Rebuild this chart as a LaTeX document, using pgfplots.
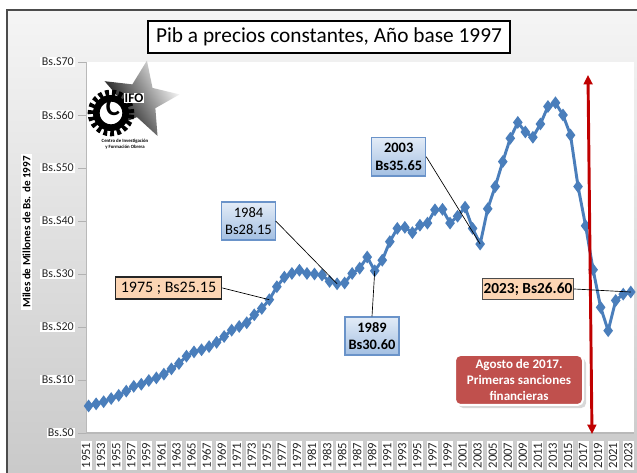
\documentclass[border=0pt]{standalone}
\usepackage{fontspec}
\setmainfont{Carlito}
\usepackage{pgfplots}
\pgfplotsset{compat=1.18}
\usetikzlibrary{shadows,shapes.geometric,arrows.meta}
\definecolor{pblue}{HTML}{4A7EBB}
\definecolor{peach}{HTML}{FCD5B4}
\definecolor{lblue1}{HTML}{E3ECF7}
\definecolor{lblue2}{HTML}{A3BFE2}
\definecolor{bblue}{HTML}{6A93C9}
\definecolor{redbox}{HTML}{C0504D}
\definecolor{darkred}{HTML}{C00000}
\pgfplotstableread{
year val
1951 5.1
1952 5.5
1953 5.9
1954 6.5
1955 7.1
1956 7.9
1957 8.8
1958 9.2
1959 9.9
1960 10.4
1961 11.1
1962 12.1
1963 13.1
1964 14.5
1965 15.3
1966 15.7
1967 16.3
1968 17.1
1969 18.2
1970 19.4
1971 20.1
1972 20.8
1973 22.3
1974 23.5
1975 25.15
1976 27.6
1977 29.4
1978 30.1
1979 30.7
1980 30.1
1981 30.0
1982 29.8
1983 28.6
1984 28.15
1985 28.3
1986 30.1
1987 31.1
1988 33.2
1989 30.6
1990 32.6
1991 36.1
1992 38.6
1993 38.8
1994 37.8
1995 39.2
1996 39.6
1997 42.1
1998 42.2
1999 39.6
2000 40.9
2001 42.6
2002 38.6
2003 35.65
2004 42.3
2005 46.5
2006 51.2
2007 55.6
2008 58.6
2009 56.8
2010 55.8
2011 58.3
2012 61.6
2013 62.3
2014 60.0
2015 56.2
2016 46.5
2017 39.1
2018 30.8
2019 23.7
2020 19.3
2021 25.0
2022 26.2
2023 26.6
}\pibdata
\begin{document}
\begin{tikzpicture}
% background (pixel coordinates)
\begin{scope}[shift={(-64.5pt,324.75pt)},x=0.75pt,y=-0.75pt]
  \useasboundingbox (0,0) rectangle (637,473);
  \fill[white] (0,0) rectangle (637,473);
  \shade[top color=gray!8, bottom color=gray!42] (7,10) rectangle (640,476);
  \draw[gray!60!black, line width=0.9pt] (7,476) -- (7,10) -- (640,10);
\end{scope}

\begin{axis}[
  at={(0pt,0pt)}, anchor=south west,
  scale only axis, width=411pt, height=278.25pt,
  xmin=1950.655, xmax=2023.43, ymin=0, ymax=70,
  axis background/.style={fill=white},
  axis x line*=bottom, axis y line*=left,
  axis line style={gray!55},
  /pgf/number format/assume math mode=true,
  /pgf/number format/1000 sep={},
  ytick={0,10,...,70},
  ytick pos=left,
  yticklabel={Bs.S\pgfmathprintnumber{\tick}},
  yticklabel style={font=\fontsize{9}{10}\selectfont, fill=white, inner sep=1pt, text=black!85, xshift=-2pt},
  y tick style={gray!60, line width=0.6pt},
  major tick length=6pt,
  tick align=outside,
  xtick={1951,1953,...,2023},
  x tick style={draw=none},
  xticklabel style={xshift=-1.9pt, rotate=90, anchor=east, font=\fontsize{9.5}{10}\selectfont, fill=white, inner sep=1pt, text=black!85},
  clip=false,
]
\addplot[pblue, line width=2.2pt, mark=diamond*, mark size=3pt, mark options={solid, fill=pblue}] table[x=year, y=val] {\pibdata};
\draw[gray!55, line width=1.6pt] (rel axis cs:0,0) -- (rel axis cs:1,0);
\coordinate (p1975) at (axis cs:1975,25.15);
\coordinate (p1984) at (axis cs:1984,28.15);
\coordinate (p1989) at (axis cs:1989,30.6);
\coordinate (p2003) at (axis cs:2003,35.65);
\coordinate (p2023) at (axis cs:2023,26.6);
\end{axis}

\begin{scope}[shift={(-64.5pt,324.75pt)},x=0.75pt,y=-0.75pt]
  % title
  \node[draw=black, line width=1pt, fill=white, font=\fontsize{16}{18}\selectfont,
        minimum width=271.5pt, minimum height=24pt, inner sep=0pt] at (329,37)
        {Pib a precios constantes, Año base 1997};
  % y label
  \node[rotate=90, fill=white, inner sep=1.5pt, font=\bfseries\fontsize{8.3}{9}\selectfont] at (26.5,232)
        {Miles de Millones de Bs. de 1997};
  % logo
  \node[star, star points=5, star point ratio=2.3, minimum size=60pt, inner sep=0pt,
        left color=black, right color=white, shading angle=120, rotate=-10] at (140,100) {};
  \draw[black, line width=5pt, dash pattern=on 2.8pt off 2.2pt] (111,113) circle (15pt);
  \draw[black, line width=5pt, fill=white] (111,113) circle (11pt);
  \node[font=\bfseries\fontsize{20}{20}\selectfont, text=black] at (113,107) {C};
  \node[font=\bfseries\fontsize{10}{10}\selectfont, text=black, fill=white, inner sep=0.5pt] at (134,98) {IFO};
  \node[font=\bfseries\fontsize{3.6}{4.5}\selectfont, align=center, inner sep=0pt] at (125,144)
        {Centro de Investigación\\y Formación Obrera};
  % annotation boxes
  \node[draw=black!85, fill=peach, line width=0.8pt, font=\fontsize{12}{14}\selectfont,
        minimum width=80pt, minimum height=16.5pt, inner sep=1pt] (b1975) at (168.5,288) {1975 ; Bs25.15};
  \draw[black, line width=0.5pt] (b1975.east) -- (p1975);
  \node[draw=bblue, top color=lblue1, bottom color=lblue2, line width=0.8pt, align=center,
        font=\fontsize{10.9}{13}\selectfont, minimum width=40pt, minimum height=28.5pt, inner sep=1pt] (b1984) at (248.5,221)
        {1984\\Bs28.15};
  \draw[black, line width=0.5pt] (b1984.east) -- (p1984);
  \node[draw=bblue, top color=lblue1, bottom color=lblue2, line width=0.8pt, align=center,
        font=\bfseries\fontsize{10.8}{13}\selectfont, minimum width=40.5pt, minimum height=29pt, inner sep=1pt] (b2003) at (398.7,156.7)
        {2003\\Bs35.65};
  \draw[black, line width=0.5pt] (b2003.east) -- (p2003);
  \node[draw=bblue, top color=lblue1, bottom color=lblue2, line width=0.8pt, align=center,
        font=\bfseries\fontsize{10.8}{13}\selectfont, minimum width=40.5pt, minimum height=28.5pt, inner sep=1pt] (b1989) at (372,336)
        {1989\\Bs30.60};
  \draw[black, line width=0.5pt] (b1989.north) -- (p1989);
  % sanctions arrow
  \draw[darkred, line width=2.2pt, {Triangle[length=7pt,width=6.5pt]}-{Triangle[length=7pt,width=6.5pt]}] (592,434) -- (588,75);
  \node[draw=black!70, fill=peach, line width=0.8pt, font=\bfseries\fontsize{11.5}{13}\selectfont,
        minimum width=68pt, minimum height=16pt, inner sep=1pt] (b2023) at (528,289) {2023; Bs26.60};
  \draw[black, line width=0.5pt] (b2023.east) -- (p2023);
  \node[fill=redbox, draw=white, line width=1.5pt, rounded corners=4pt, drop shadow={opacity=0.3},
        text=white, align=center, font=\bfseries\fontsize{9.8}{11.9}\selectfont,
        minimum width=96pt, minimum height=37.5pt, inner sep=1pt] at (519,380)
        {Agosto de 2017.\\Primeras sanciones\\financieras};
\end{scope}
\end{tikzpicture}
\end{document}
